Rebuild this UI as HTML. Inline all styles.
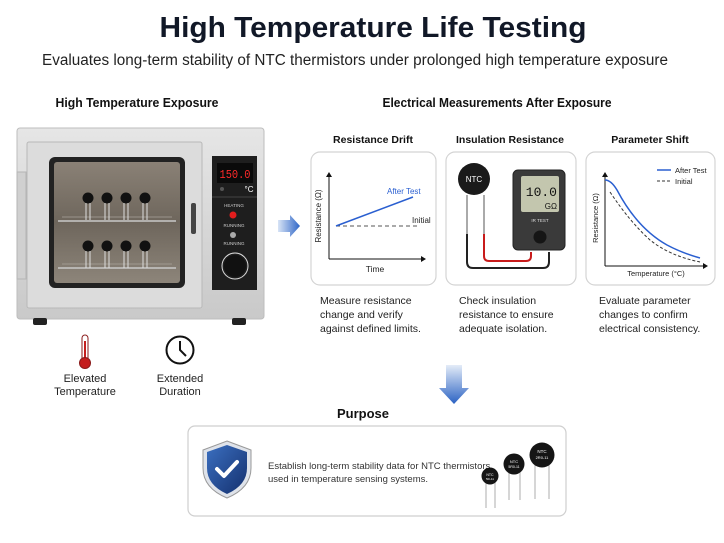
<!DOCTYPE html>
<html><head><meta charset="utf-8"><style>
html,body{margin:0;padding:0;background:#fff;}
svg{display:block;font-family:"Liberation Sans",Arial,sans-serif;}
</style></head><body>
<svg width="724" height="543" viewBox="0 0 724 543" xmlns="http://www.w3.org/2000/svg">
<defs>
<linearGradient id="body" x1="0" y1="0" x2="0" y2="1"><stop offset="0" stop-color="#e6e6e6"/><stop offset="1" stop-color="#c9c9c9"/></linearGradient>
<linearGradient id="win" x1="0" y1="0" x2="0" y2="1"><stop offset="0" stop-color="#8a8176"/><stop offset="0.5" stop-color="#6e665c"/><stop offset="1" stop-color="#8d857a"/></linearGradient>
<linearGradient id="arr" x1="0" y1="0" x2="1" y2="0"><stop offset="0" stop-color="#d8e4f6"/><stop offset="1" stop-color="#2f66c7"/></linearGradient>
<linearGradient id="darr" x1="0" y1="0" x2="0" y2="1"><stop offset="0" stop-color="#e4ecf8"/><stop offset="1" stop-color="#2b62c3"/></linearGradient>
<linearGradient id="shield" x1="0" y1="0" x2="1" y2="1"><stop offset="0" stop-color="#3b6fc0"/><stop offset="1" stop-color="#14306e"/></linearGradient>
</defs>

<text x="373" y="37" text-anchor="middle" font-size="29" font-weight="bold" fill="#111827" textLength="427" lengthAdjust="spacingAndGlyphs">High Temperature Life Testing</text>
<text x="355" y="65" text-anchor="middle" font-size="15.5" fill="#222" textLength="626" lengthAdjust="spacingAndGlyphs">Evaluates long-term stability of NTC thermistors under prolonged high temperature exposure</text>
<text x="137" y="107" text-anchor="middle" font-size="13" font-weight="bold" fill="#111" textLength="163" lengthAdjust="spacingAndGlyphs">High Temperature Exposure</text>
<text x="497" y="107" text-anchor="middle" font-size="13" font-weight="bold" fill="#111" textLength="229" lengthAdjust="spacingAndGlyphs">Electrical Measurements After Exposure</text>

<!-- Oven -->
<rect x="17" y="128" width="247" height="191" rx="3" fill="url(#body)" stroke="#bdbdbd"/>
<rect x="17" y="172" width="9" height="107" fill="#d0d0d0" stroke="#b5b5b5"/>
<rect x="27" y="142" width="175" height="166" rx="2" fill="#dcdcdc" stroke="#b8b8b8"/>
<rect x="49" y="157" width="136" height="131" rx="6" fill="#222"/>
<rect x="54" y="162" width="126" height="121" rx="3" fill="url(#win)"/>
<g stroke="#c8c8c8" stroke-width="1.5">
<line x1="58" y1="221" x2="176" y2="221"/><line x1="58" y1="268" x2="176" y2="268"/>
</g>
<g stroke="#a9a39b" stroke-width="0.8">
<line x1="62" y1="217" x2="172" y2="217"/><line x1="62" y1="264" x2="172" y2="264"/>
</g>
<g fill="#111">
<circle cx="88" cy="198" r="5.5"/><circle cx="107" cy="198" r="5.5"/><circle cx="126" cy="198" r="5.5"/><circle cx="145" cy="198" r="5.5"/>
<circle cx="88" cy="246" r="5.5"/><circle cx="107" cy="246" r="5.5"/><circle cx="126" cy="246" r="5.5"/><circle cx="145" cy="246" r="5.5"/>
</g>
<g stroke="#ddd" stroke-width="1">
<path d="M86 203v17M90 203v17M105 203v17M109 203v17M124 203v17M128 203v17M143 203v17M147 203v17"/>
<path d="M86 251v17M90 251v17M105 251v17M109 251v17M124 251v17M128 251v17M143 251v17M147 251v17"/>
</g>
<rect x="191" y="203" width="5" height="31" rx="2" fill="#444"/>
<rect x="212" y="156" width="45" height="134" fill="#1e1e1e"/>
<rect x="217" y="163" width="36" height="20" fill="#0a0a0a"/>
<text x="235" y="178" text-anchor="middle" font-size="12" fill="#ff2a2a" font-family="Liberation Mono,monospace" textLength="31" lengthAdjust="spacingAndGlyphs">150.0</text>
<text x="249" y="192" text-anchor="middle" font-size="8" fill="#fff">°C</text>
<circle cx="222" cy="189" r="2" fill="#555"/>
<line x1="212" y1="197" x2="257" y2="197" stroke="#444"/>
<text x="234" y="207" text-anchor="middle" font-size="4.5" fill="#ccc">HEATING</text>
<circle cx="233" cy="215" r="3.5" fill="#e21d1d"/>
<text x="234" y="227" text-anchor="middle" font-size="4.5" fill="#ccc">RUNNING</text>
<circle cx="233" cy="235" r="3" fill="#aaa"/>
<text x="234" y="245" text-anchor="middle" font-size="4.5" fill="#ccc">RUNNING</text>
<circle cx="235" cy="266" r="13" fill="none" stroke="#ddd"/>
<circle cx="235" cy="266" r="11" fill="#111"/>
<rect x="33" y="318" width="14" height="7" rx="2" fill="#222"/>
<rect x="232" y="318" width="14" height="7" rx="2" fill="#222"/>

<!-- right arrow -->
<path d="M278 220h12v-5l10 11-10 11v-5h-12z" fill="url(#arr)"/>

<!-- icons -->
<rect x="82" y="335" width="6" height="27" rx="3" fill="#fff" stroke="#8a1a1a"/>
<rect x="84" y="341" width="2" height="21" fill="#c41e1e"/>
<circle cx="85" cy="363" r="5.5" fill="#c41e1e" stroke="#8a1a1a"/>
<text x="85" y="382" text-anchor="middle" font-size="11" fill="#222">Elevated</text>
<text x="85" y="395" text-anchor="middle" font-size="11" fill="#222">Temperature</text>
<circle cx="180" cy="350" r="13.5" fill="#fff" stroke="#111" stroke-width="2"/>
<path d="M180 341v9l6 6" stroke="#111" stroke-width="2" fill="none"/>
<text x="180" y="382" text-anchor="middle" font-size="11" fill="#222">Extended</text>
<text x="180" y="395" text-anchor="middle" font-size="11" fill="#222">Duration</text>

<!-- panel titles -->
<text x="373" y="143" text-anchor="middle" font-size="10.5" font-weight="bold" fill="#111">Resistance Drift</text>
<text x="510" y="143" text-anchor="middle" font-size="10.5" font-weight="bold" fill="#111">Insulation Resistance</text>
<text x="650" y="143" text-anchor="middle" font-size="10.5" font-weight="bold" fill="#111">Parameter Shift</text>

<g fill="#fff" stroke="#d4d4d4" stroke-width="1.2">
<rect x="311" y="152" width="125" height="133" rx="9"/>
<rect x="446" y="152" width="130" height="133" rx="9"/>
<rect x="586" y="152" width="129" height="133" rx="9"/>
</g>

<!-- graph1 -->
<path d="M329 259V174M329 259H424" stroke="#111" stroke-width="1" fill="none"/>
<path d="M326 177l3-5 3 5z M421 256l5 3-5 3z" fill="#111"/>
<line x1="336" y1="226" x2="420" y2="226" stroke="#555" stroke-dasharray="4,3"/>
<line x1="336" y1="226" x2="413" y2="197" stroke="#2a5fd0" stroke-width="1.5"/>
<text x="387" y="194" font-size="8" fill="#2a5fd0">After Test</text>
<text x="412" y="223" font-size="8" fill="#222">Initial</text>
<text x="375" y="272" text-anchor="middle" font-size="8.5" fill="#222">Time</text>
<text transform="translate(321,216) rotate(-90)" text-anchor="middle" font-size="8" fill="#222">Resistance (Ω)</text>

<!-- meter -->
<path d="M467 205V262q0 6 6 6H543q6 0 6-6V252" stroke="#222" stroke-width="2" fill="none"/>
<path d="M467 195V234" stroke="#aaa" stroke-width="2"/>
<path d="M484 205V256q0 5 5 5H526q5 0 5-5V252" stroke="#c81b1b" stroke-width="2" fill="none"/>
<path d="M484 195V234" stroke="#aaa" stroke-width="2"/>
<circle cx="474" cy="179" r="16" fill="#1a1a1a"/>
<text x="474" y="182" text-anchor="middle" font-size="8" fill="#fff">NTC</text>
<rect x="513" y="170" width="52" height="80" rx="5" fill="#3a3a3a" stroke="#222"/>
<rect x="521" y="176" width="38" height="36" rx="2" fill="#c3c6ae"/>
<text x="557" y="196" text-anchor="end" font-size="13" fill="#111" font-family="Liberation Mono,monospace">10.0</text>
<text x="557" y="209" text-anchor="end" font-size="8" fill="#111">GΩ</text>
<text x="540" y="222" text-anchor="middle" font-size="4.5" fill="#ddd">IR TEST</text>
<circle cx="540" cy="237" r="6.5" fill="#151515"/>

<!-- graph3 -->
<path d="M605 266V174M605 266H705" stroke="#111" fill="none"/>
<path d="M602 177l3-5 3 5z M703 263l5 3-5 3z" fill="#111"/>
<path d="M605 180q6 0 12 10q20 38 50 55q15 8 33 13" stroke="#2a5fd0" stroke-width="1.5" fill="none"/>
<path d="M610 192q20 30 40 48q20 16 50 22" stroke="#333" stroke-dasharray="3,2" fill="none"/>
<line x1="657" y1="170" x2="671" y2="170" stroke="#2a5fd0" stroke-width="1.5"/>
<text x="675" y="173" font-size="7.5" fill="#222">After Test</text>
<line x1="657" y1="181" x2="671" y2="181" stroke="#333" stroke-dasharray="3,2"/>
<text x="675" y="184" font-size="7.5" fill="#222">Initial</text>
<text x="656" y="276" text-anchor="middle" font-size="7.5" fill="#222">Temperature (°C)</text>
<text transform="translate(598,218) rotate(-90)" text-anchor="middle" font-size="7.5" fill="#222">Resistance (Ω)</text>

<!-- descriptions -->
<g font-size="10.5" fill="#222">
<text x="320" y="304">Measure resistance</text><text x="320" y="318">change and verify</text><text x="320" y="332">against defined limits.</text>
<text x="459" y="304">Check insulation</text><text x="459" y="318">resistance to ensure</text><text x="459" y="332">adequate isolation.</text>
<text x="599" y="304">Evaluate parameter</text><text x="599" y="318">changes to confirm</text><text x="599" y="332">electrical consistency.</text>
</g>

<!-- down arrow -->
<path d="M446 365h16v23h7l-15 16-15-16h7z" fill="url(#darr)"/>

<text x="363" y="418" text-anchor="middle" font-size="13" font-weight="bold" fill="#111">Purpose</text>
<rect x="188" y="426" width="378" height="90" rx="7" fill="#fff" stroke="#cfcfcf" stroke-width="1.2"/>
<path d="M227 441l24 9v18q0 20-24 30q-24-10-24-30v-18z" fill="#dfe3ea" stroke="#999"/>
<path d="M227 445l20 7v16q0 17-20 26q-20-9-20-26v-16z" fill="url(#shield)"/>
<path d="M217 469l7 7 13-14" stroke="#fff" stroke-width="4" fill="none" stroke-linecap="round" stroke-linejoin="round"/>
<text x="268" y="469" font-size="9.5" fill="#333">Establish long-term stability data for NTC thermistors</text>
<text x="268" y="482" font-size="9.5" fill="#333">used in temperature sensing systems.</text>
<g stroke="#bbb" stroke-width="1.2">
<path d="M486 480v28M495 480v28M509 470v30M520 470v30M535 465v34M549 465v34"/>
</g>
<circle cx="490" cy="476" r="8.5" fill="#151515"/>
<circle cx="514" cy="464" r="10.5" fill="#151515"/>
<circle cx="542" cy="455" r="12.5" fill="#151515"/>
<g fill="#fff" text-anchor="middle">
<text x="490" y="476" font-size="3.5">NTC</text><text x="490" y="480" font-size="3">5D-11</text>
<text x="514" y="463" font-size="4">NTC</text><text x="514" y="468" font-size="3.5">5R0-11</text>
<text x="542" y="453" font-size="4.5">NTC</text><text x="542" y="459" font-size="4">2R0-11</text>
</g>
</svg>
</body></html>
